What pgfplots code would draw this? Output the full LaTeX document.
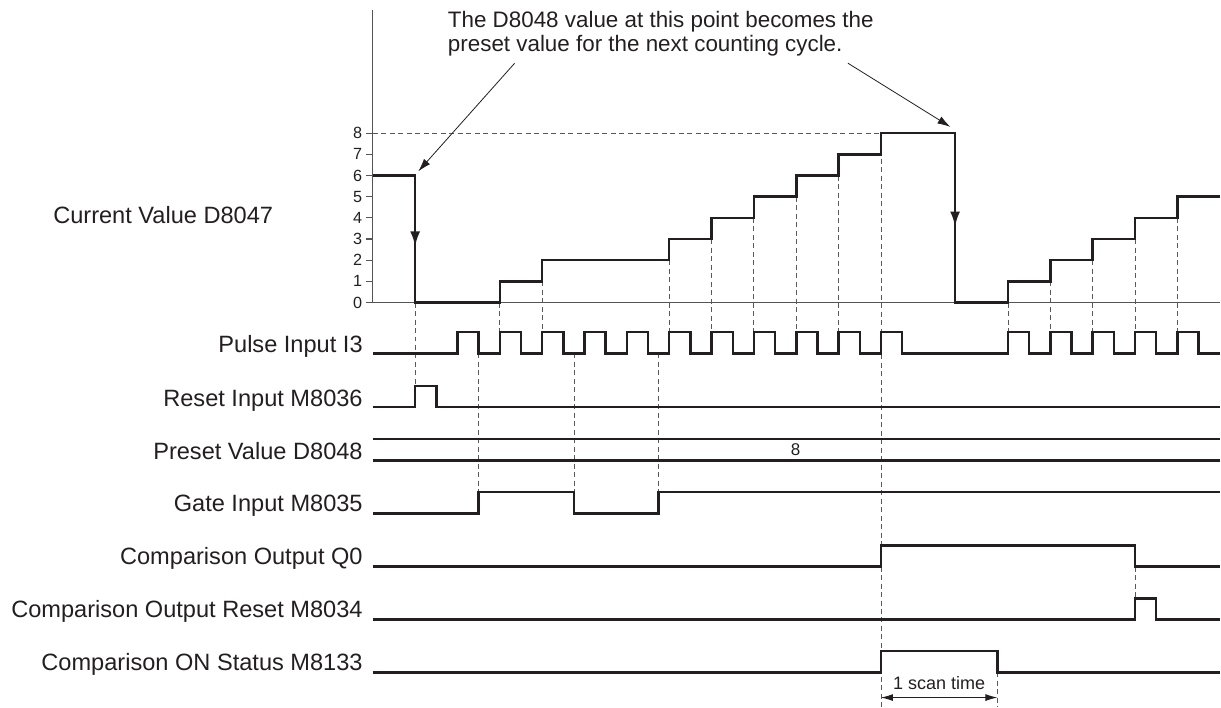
\documentclass[border=0pt]{standalone}
\usepackage{pgfplots}
\pgfplotsset{compat=1.18}
\usepackage{fontspec}
\setmainfont{Liberation Sans}
\usetikzlibrary{arrows.meta}
\definecolor{ink}{RGB}{35,31,32}
\definecolor{axgray}{RGB}{85,85,85}
\newcommand\lab{\fontsize{23.6}{27}\selectfont}
\newcommand\ann{\fontsize{22.4}{26}\selectfont}

\begin{document}
\begin{tikzpicture}
\begin{axis}[
  x=21.185pt, y=21.17pt,
  xmin=0, xmax=40, ymin=-19.098, ymax=14.298,
  scale only axis,
  axis x line=none,
  axis y line*=left,
  y axis line style={draw=none},
  ytick={0,...,8},
  tick align=outside,
  major tick length=7pt,
  ytick style={axgray, line width=1.2pt},
  yticklabel style={font=\fontsize{16.2}{16.2}\selectfont, text=ink, inner sep=0pt, xshift=-3.5pt},
  /pgf/number format/assume math mode=true,
  clip=false,
  sig/.style={ink, line width=2.5pt, line join=miter, const plot},
  dsh/.style={black!65, line width=0.9pt, dash pattern=on 5pt off 3.5pt},
]
% axis lines
\addplot[axgray, line width=1.3pt] coordinates {(0,0) (40,0)};
\addplot[axgray, line width=1.3pt] coordinates {(0,0) (0,13.83)};

% dashed guide lines
\addplot[dsh] coordinates {(0,8) (24,8)};
\addplot[dsh] coordinates {(2,0) (2,-3.94)};
\addplot[dsh] coordinates {(6,0) (6,-1.42)};
\addplot[dsh] coordinates {(8,1) (8,-1.42)};
\addplot[dsh] coordinates {(14,2) (14,-1.42)};
\addplot[dsh] coordinates {(16,3) (16,-1.42)};
\addplot[dsh] coordinates {(18,4) (18,-1.42)};
\addplot[dsh] coordinates {(20,5) (20,-1.42)};
\addplot[dsh] coordinates {(22,6) (22,-1.42)};
\addplot[dsh] coordinates {(24,8) (24,-19.098)};
\addplot[dsh] coordinates {(30,0) (30,-1.42)};
\addplot[dsh] coordinates {(32,1) (32,-1.42)};
\addplot[dsh] coordinates {(34,2) (34,-1.42)};
\addplot[dsh] coordinates {(36,3) (36,-1.42)};
\addplot[dsh] coordinates {(38,4) (38,-1.42)};
\addplot[dsh] coordinates {(5,-2.4) (5,-8.96)};
\addplot[dsh] coordinates {(9.5,-2.4) (9.5,-8.96)};
\addplot[dsh] coordinates {(13.5,-2.4) (13.5,-8.96)};
\addplot[dsh] coordinates {(36,-12.48) (36,-13.98)};
\addplot[dsh] coordinates {(29.5,-17.48) (29.5,-19.098)};

% Current value D8047
\addplot[sig] table[x=t, y=v] {
t v
0 6
2 0
6 1
8 2
14 3
16 4
18 5
20 6
22 7
24 8
27.5 0
30 1
32 2
34 3
36 4
38 5
40 5
};

% Pulse input I3
\addplot[sig] table[x=t, y expr=\thisrow{v}-2.4] {
t v
0 0
4 1
5 0
6 1
7 0
8 1
9 0
10 1
11 0
12 1
13 0
14 1
15 0
16 1
17 0
18 1
19 0
20 1
21 0
22 1
23 0
24 1
25 0
30 1
31 0
32 1
33 0
34 1
35 0
36 1
37 0
38 1
39 0
40 0
};

% Reset input M8036
\addplot[sig] table[x=t, y expr=\thisrow{v}-4.94] {
t v
0 0
2 1
3 0
40 0
};

% Preset value D8048
\addplot[ink, line width=2.3pt] coordinates {(0,-6.44) (40,-6.44)};
\addplot[ink, line width=2.3pt] coordinates {(0,-7.46) (40,-7.46)};

% Gate input M8035
\addplot[sig] table[x=t, y expr=\thisrow{v}-9.96] {
t v
0 0
5 1
9.5 0
13.5 1
40 1
};

% Comparison output Q0
\addplot[sig] table[x=t, y expr=\thisrow{v}-12.48] {
t v
0 0
24 1
36 0
40 0
};

% Comparison output reset M8034
\addplot[sig] table[x=t, y expr=\thisrow{v}-14.98] {
t v
0 0
36 1
37 0
40 0
};

% Comparison ON status M8133
\addplot[sig] table[x=t, y expr=\thisrow{v}-17.48] {
t v
0 0
24 1
29.5 0
40 0
};

% arrowheads on the drops
\draw[ink, line width=2.5pt, -{Latex[length=15pt,width=10pt]}] (axis cs:2,4.8) -- (axis cs:2,2.65);
\draw[ink, line width=2.5pt, -{Latex[length=15pt,width=10pt]}] (axis cs:27.5,5.8) -- (axis cs:27.5,3.59);

% annotation
\node[anchor=base west, inner sep=0pt, font=\ann, text=ink] at (axis cs:3.54,13.02) {The D8048 value at this point becomes the};
\node[anchor=base west, inner sep=0pt, font=\ann, text=ink] at (axis cs:3.54,11.84) {preset value for the next counting cycle.};
\draw[ink, line width=0.8pt, -{Latex[length=13pt,width=8pt]}] (axis cs:6.70,11.31) -- (axis cs:2.15,6.2);
\draw[ink, line width=0.8pt, -{Latex[length=13pt,width=8pt]}] (axis cs:22.44,11.31) -- (axis cs:27.28,8.30);

% row labels
\node[anchor=base west, inner sep=0pt, font=\lab, text=ink] at (axis cs:-15.10,3.72) {Current Value D8047};
\node[anchor=base east, inner sep=0pt, font=\lab, text=ink] at (axis cs:-0.47,-2.36) {Pulse Input I3};
\node[anchor=base east, inner sep=0pt, font=\lab, text=ink] at (axis cs:-0.47,-4.91) {Reset Input M8036};
\node[anchor=base east, inner sep=0pt, font=\lab, text=ink] at (axis cs:-0.47,-7.40) {Preset Value D8048};
\node[anchor=base east, inner sep=0pt, font=\lab, text=ink] at (axis cs:-0.47,-9.87) {Gate Input M8035};
\node[anchor=base east, inner sep=0pt, font=\lab, text=ink] at (axis cs:-0.47,-12.36) {Comparison Output Q0};
\node[anchor=base east, inner sep=0pt, font=\lab, text=ink] at (axis cs:-0.47,-14.88) {Comparison Output Reset M8034};
\node[anchor=base east, inner sep=0pt, font=\lab, text=ink] at (axis cs:-0.47,-17.38) {Comparison ON Status M8133};

% preset value text
\node[inner sep=0pt, font=\fontsize{17}{17}\selectfont, text=ink] at (axis cs:19.97,-6.96) {8};

% scan time
\draw[ink, line width=0.9pt, {Latex[length=12pt,width=7pt]}-{Latex[length=12pt,width=7pt]}] (axis cs:24,-18.67) -- (axis cs:29.5,-18.67);
\node[anchor=base, inner sep=0pt, font=\fontsize{18}{18}\selectfont, text=ink] at (axis cs:26.75,-18.3) {1 scan time};

% picture frame
\path (axis cs:-17.607,-19.098) rectangle (axis cs:40.028,14.298);
\end{axis}
\end{tikzpicture}
\end{document}
